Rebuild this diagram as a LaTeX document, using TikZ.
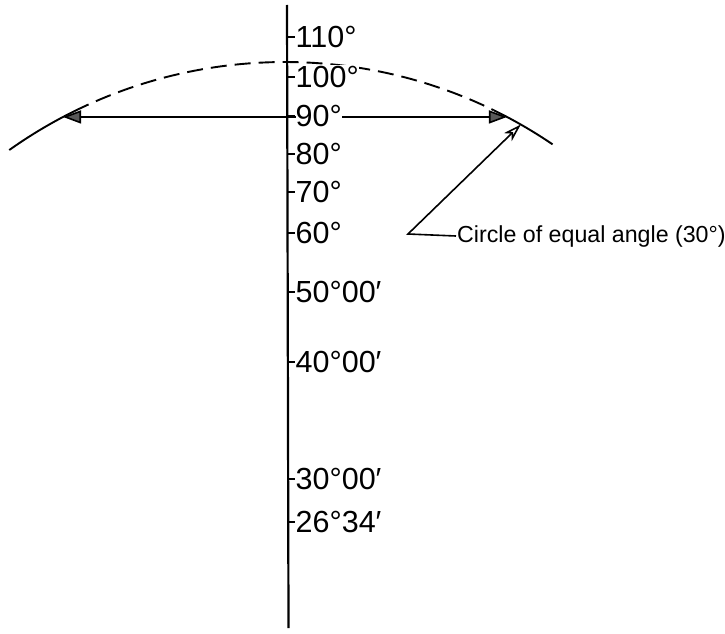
\documentclass[tikz,border=0pt]{standalone}
\usepackage{fontspec}
\setmainfont{Liberation Sans}
\usetikzlibrary{arrows.meta,calc}
\begin{document}
\begin{tikzpicture}[x=1pt,y=-1pt,
  lab/.style={anchor=west, font=\fontsize{30.5}{33}\selectfont, inner sep=1pt},
  captext/.style={anchor=west, font=\fontsize{23.2}{26}\selectfont, inner sep=1pt},
  axisline/.style={line width=2.2pt},
  tickmark/.style={line width=1.6pt},
  arcline/.style={line width=1.9pt},
  head/.style={line width=1.6pt, {Triangle[length=18pt,width=13pt,fill=black!65]}-{Triangle[length=18pt,width=13pt,fill=black!65]}},
  lead/.style={line width=1.6pt, -{Stealth[open,length=18pt,width=11pt,inset=5pt]}}
]
\useasboundingbox (0,0) rectangle (725,634);
\coordinate (C) at (285,538);
\coordinate (top) at (287,5);
\coordinate (bot) at (288.5,628);
\draw[axisline] (top) -- (bot);
% arc
\draw[arcline] ($(C)+(-125.4:476)$) arc[start angle=-125.4, end angle=-116.3, radius=476];
\draw[arcline, dash pattern=on 16pt off 8pt] ($(C)+(-116.3:476)$) arc[start angle=-116.3, end angle=-64, radius=476];
\draw[arcline] ($(C)+(-64:476)$) arc[start angle=-64, end angle=-55.8, radius=476];
% horizontal arrow
\coordinate (L) at ($(C)+(-117.8:476)$);
\coordinate (R) at ($(C)+(-62.2:476)$);
\draw[head] (L) -- (R);
% ticks and labels
\foreach \y/\t/\n in {37/110°/a,77/100°/b,116/90°/c,154/80°/d,192/70°/e,233/60°/f,292/50°00′/g,362/40°00′/h,479/30°00′/i,522/26°34′/j}{
  \draw[tickmark] (288,\y) -- (295,\y);
  \node[lab, fill=white, inner xsep=0pt] (l\n) at (295.5,\y) {\t};
}
% callout
\node[captext] (capt) at (456,236) {Circle of equal angle (30°)};
\coordinate (knee) at (408,234);
\coordinate (tgt) at ($(C)+(-60.3:476)$);
\draw[lead] (capt.west) -- (knee) -- (tgt);
\end{tikzpicture}
\end{document}
